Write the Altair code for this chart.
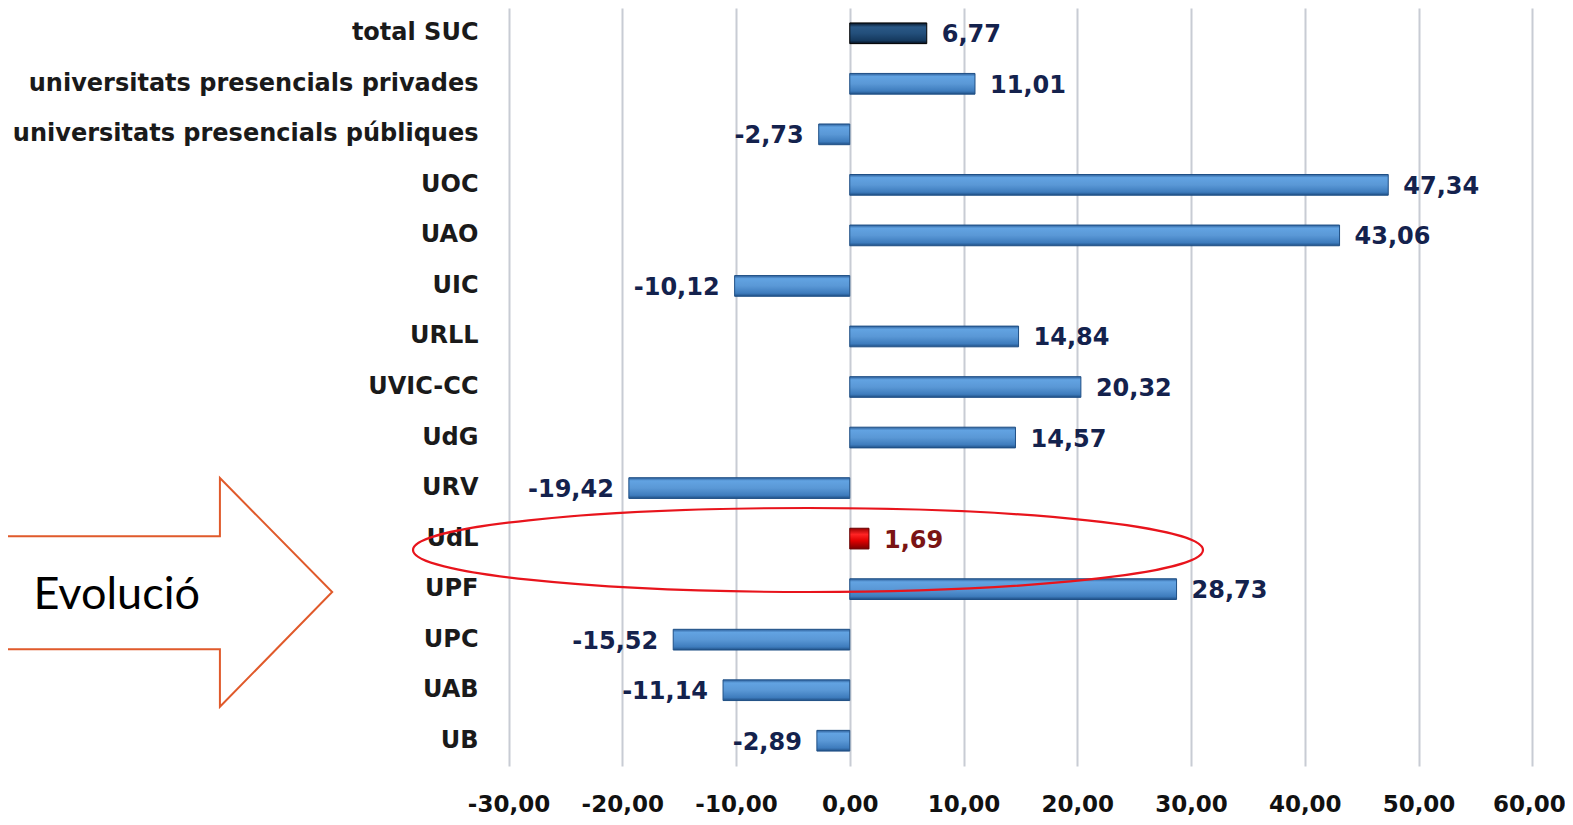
import altair as alt
import pandas as pd

# ---- data ----
categories = ["total SUC", "universitats presencials privades", "universitats presencials públiques",
              "UOC", "UAO", "UIC", "URLL", "UVIC-CC", "UdG", "URV", "UdL", "UPF", "UPC", "UAB", "UB"]
values = [6.77, 11.01, -2.73, 47.34, 43.06, -10.12, 14.84, 20.32, 14.57, -19.42, 1.69, 28.73, -15.52, -11.14, -2.89]
kinds = ["total"] + ["uni"] * 9 + ["udl"] + ["uni"] * 4
tick_values = [-30, -20, -10, 0, 10, 20, 30, 40, 50, 60]

# annotation arrow outline (x in axis units, y in row units)
arrow_x = [-74, -55.37, -55.37, -45.5, -55.37, -55.37, -74]
arrow_y = [9.953, 9.953, 8.802, 11.058, 13.328, 12.191, 12.191]

df = pd.DataFrame({"cat": categories, "value": values, "kind": kinds, "row": list(range(len(categories)))})
arrow_df = pd.DataFrame({"ax": arrow_x, "ay": arrow_y, "i": list(range(len(arrow_x)))})

XDOM = [-74, 62]
YDOM = [-0.5, 14.5]
FONT = "DejaVu Sans"

xs = alt.Scale(domain=XDOM, nice=False, zero=False)
ys = alt.Scale(domain=YDOM, reverse=True, nice=False, zero=False)

axis_x = alt.Axis(values=tick_values, grid=True, gridColor="#c8ccd4", gridWidth=2,
                  domain=False, ticks=False, tickSize=0, title=None,
                  labelExpr="replace(replace(format(datum.value, '.2f'), '.', ','), '\u2212', '-')",
                  labelFont=FONT, labelFontSize=23, labelFontWeight="bold", labelColor="#111111",
                  labelPadding=27, labelFlush=False, labelOverlap=False,
                  labelAlign={"condition": {"test": "datum.value == 60", "value": "right"}, "value": "center"},
                  labelOffset={"condition": {"test": "datum.value == 60", "value": 33}, "value": 0})

base = alt.Chart(df).transform_calculate(
    y0="datum.row - 0.205",
    y1="datum.row + 0.205",
    zero="0",
    label="replace(replace(format(datum.value, '.2f'), '.', ','), '\u2212', '-')",
)

def grad(stops):
    return {"gradient": "linear", "x1": 0, "y1": 0, "x2": 0, "y2": 1,
            "stops": [{"offset": o, "color": c} for o, c in stops]}

blue = grad([(0, "#2d5f9a"), (0.15, "#62a3e2"), (0.5, "#5a98d6"), (0.85, "#3e7cbd"), (1, "#1f4f85")])
navy = grad([(0, "#081628"), (0.2, "#2a5886"), (0.5, "#234f7b"), (0.85, "#15395e"), (1, "#050f1e")])
red = grad([(0, "#990000"), (0.3, "#ff2424"), (0.6, "#e00000"), (1, "#7a0000")])

def bars(kind, fill, stroke):
    return base.transform_filter(f"datum.kind == '{kind}'").mark_bar(
        fill=fill, stroke=stroke, strokeWidth=1
    ).encode(
        x=alt.X("value:Q", scale=xs, axis=axis_x),
        x2="zero:Q",
        y=alt.Y("y0:Q", scale=ys, axis=None),
        y2="y1:Q",
    )

bar_uni = bars("uni", blue, "#1f4f85")
bar_tot = bars("total", navy, "#000000")
bar_udl = bars("udl", red, "#6a0000")

def vlabels(cond, align, dx, color):
    return base.transform_filter(cond).mark_text(
        align=align, baseline="middle", dx=dx, dy=2, font=FONT, fontSize=24,
        fontWeight="bold", color=color
    ).encode(
        x=alt.X("value:Q", scale=xs, axis=axis_x),
        y=alt.Y("row:Q", scale=ys, axis=None),
        text="label:N",
    )

lab_pos = vlabels("datum.value >= 0 && datum.kind != 'udl'", "left", 15, "#14224d")
lab_neg = vlabels("datum.value < 0", "right", -15, "#14224d")
lab_udl = vlabels("datum.kind == 'udl'", "left", 15, "#7a1414")

cat_labels = base.mark_text(
    align="right", baseline="middle", font=FONT, fontSize=24, fontWeight="bold", color="#1a1a1a"
).encode(
    x=alt.value(470.5),
    y=alt.Y("row:Q", scale=ys, axis=None),
    text="cat:N",
)

arrow = alt.Chart(arrow_df).mark_line(stroke="#e05a2b", strokeWidth=2).encode(
    x=alt.X("ax:Q", scale=xs, axis=axis_x),
    y=alt.Y("ay:Q", scale=ys, axis=None),
    order="i:Q",
)

evol = alt.Chart(alt.Data(values=[{"t": "Evolució"}])).mark_text(
    align="center", baseline="middle", font="Lato", fontSize=45, color="#000000"
).encode(x=alt.value(108.7), y=alt.value(586.8), text="t:N")

ell_path = ("M -1 0 C -1 -0.0587 -0.5523 -0.1063 0 -0.1063 C 0.5523 -0.1063 1 -0.0587 1 0 "
            "C 1 0.0587 0.5523 0.1063 0 0.1063 C -0.5523 0.1063 -1 0.0587 -1 0 Z")
ellipse = alt.Chart(alt.Data(values=[{"a": 1}])).mark_point(
    shape=ell_path, size=624100, filled=False, stroke="#e8141c", strokeWidth=2.2, opacity=1
).encode(x=alt.value(800), y=alt.value(542))

chart = alt.layer(
    bar_uni, bar_tot, bar_udl, lab_pos, lab_neg, lab_udl, cat_labels, arrow, evol, ellipse
).properties(
    width=1547, height=758,
    padding={"left": 0, "top": 0, "right": 10, "bottom": 51},
    autosize=alt.AutoSizeParams(type="none"),
    background="white",
).configure_view(strokeWidth=0)

chart.save("out.html", embed_options={"renderer": "svg", "actions": False})
